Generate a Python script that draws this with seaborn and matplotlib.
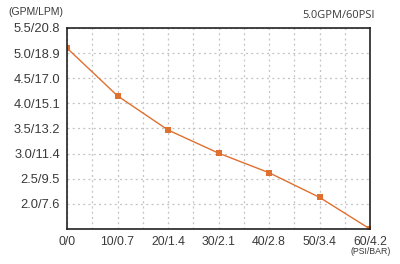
import numpy as np
import seaborn as sb
import pandas as pd
import matplotlib.pyplot as plt
import matplotlib.ticker as ticker

# Data
psi = [0, 10, 20, 30, 40, 50, 60]
flow = [5.10, 4.15, 3.47, 3.01, 2.62, 2.13, 1.50]
x_labels = ["0/0", "10/0.7", "20/1.4", "30/2.1", "40/2.8", "50/3.4", "60/4.2"]
y_ticks = [2.0, 2.5, 3.0, 3.5, 4.0, 4.5, 5.0, 5.5]
y_labels = ["2.0/7.6", "2.5/9.5", "3.0/11.4", "3.5/13.2", "4.0/15.1",
            "4.5/17.0", "5.0/18.9", "5.5/20.8"]

df = pd.DataFrame({"psi": psi, "flow": flow})

sb.set_style("white")
plt.rcParams['font.family'] = ['Liberation Sans', 'DejaVu Sans']

text_col = "#3a3a3a"
line_col = "#E0702F"

fig = plt.figure(figsize=(4, 2.64), dpi=100)
ax = fig.add_axes([0.1675, 0.1326, 0.7575, 0.7614])

sb.lineplot(data=df, x="psi", y="flow", color=line_col, lw=1.0,
            marker="s", markersize=4.2, markeredgewidth=0, ax=ax)

ax.set_xlim(0, 60)
ax.set_ylim(1.5, 5.5)

ax.xaxis.set_major_locator(ticker.FixedLocator(psi))
ax.xaxis.set_minor_locator(ticker.MultipleLocator(5))
ax.set_xticklabels(x_labels, fontsize=8.8, color=text_col)
ax.set_yticks(y_ticks)
ax.set_yticklabels(y_labels, fontsize=9.3, color=text_col)
ax.yaxis.set_minor_locator(ticker.FixedLocator([1.5]))

ax.grid(True, which="both", color="#c4c4c4", lw=0.9, linestyle=(0, (1.6, 2.6)))
ax.tick_params(axis="both", which="both", length=0)
ax.tick_params(axis="x", pad=5)
ax.tick_params(axis="y", pad=5)

for s in ax.spines.values():
    s.set_color("#222222")
    s.set_linewidth(1.2)
    s.set_visible(True)

ax.set_xlabel("")
ax.set_ylabel("")

fig.text(8 / 400, 1 - 12 / 264, "(GPM/LPM)", fontsize=7.5, color=text_col,
         ha="left", va="center")
fig.text(375 / 400, 1 - 15 / 264, "5.0GPM/60PSI", fontsize=7.9, color=text_col,
         ha="right", va="center", family=["Open Sans", "DejaVu Sans"])
fig.text(371 / 400, 1 - 252 / 264, "(PSI/BAR)", fontsize=6.3, color=text_col,
         ha="center", va="center", stretch="condensed")

plt.savefig("out.png", dpi=100)
